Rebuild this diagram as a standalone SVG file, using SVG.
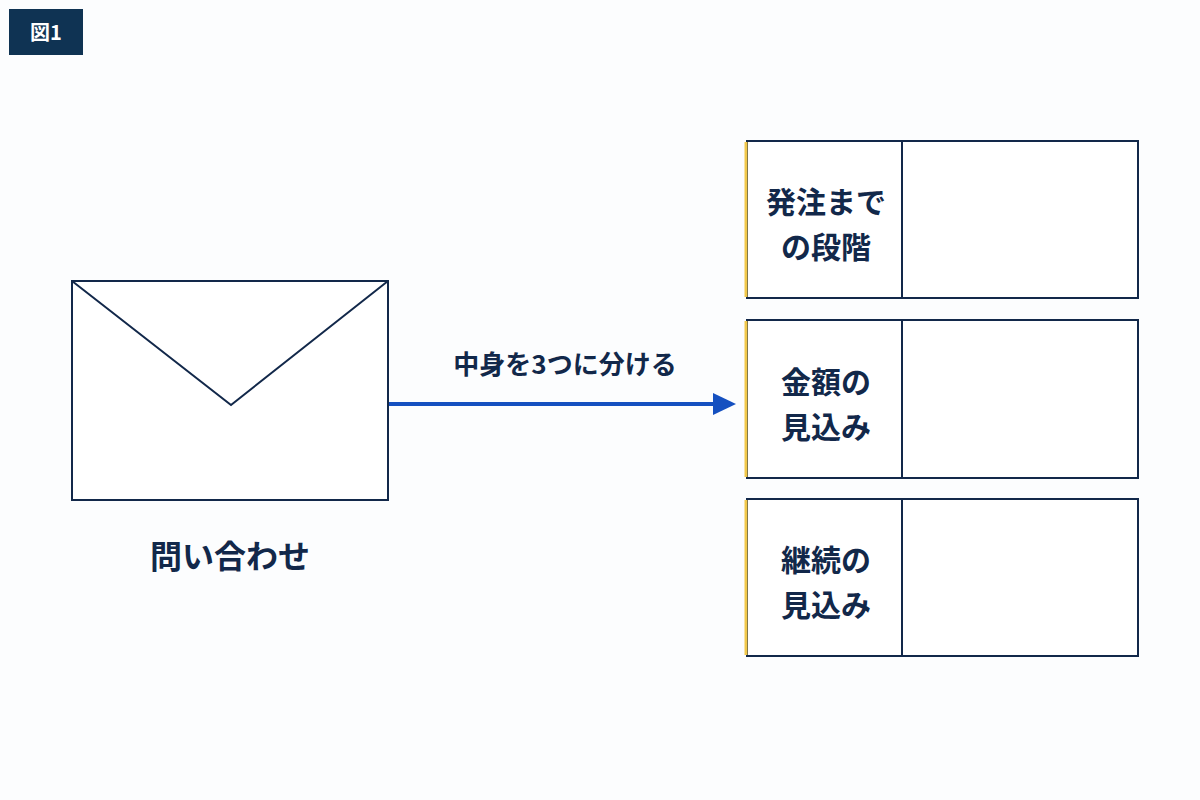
<svg xmlns="http://www.w3.org/2000/svg" width="1200" height="800" viewBox="0 0 1200 800">
<style>
.t{font-family:"Noto Sans CJK JP","Noto Sans",sans-serif;font-weight:700;fill:#12284a}
.box{fill:#fff;stroke:#12284a;stroke-width:2}
.ln{stroke:#12284a;stroke-width:2;fill:none}
.acc{stroke:#f2c84b;stroke-width:3}
</style>
<rect width="1200" height="800" fill="#fcfdfe"/>
<g id="badge"><rect x="9" y="9" width="74" height="46" fill="#0f3353"/><text x="46" y="40" text-anchor="middle" class="t" style="fill:#fff" font-size="20">図1</text></g>
<g id="envelope">
<rect x="72" y="281" width="316" height="219" class="box"/>
<polyline points="72,281 231,405 388,281" class="ln"/>
<text x="230" y="568" text-anchor="middle" class="t" font-size="32">問い合わせ</text>
</g>
<g id="connectors">
<line x1="389" y1="404" x2="716" y2="404" stroke="#1550c0" stroke-width="4"/>
<polygon points="713,393 736,404 713,415" fill="#1550c0"/>
<text x="565" y="374" text-anchor="middle" class="t" font-size="26">中身を3つに分ける</text>
</g>
<g id="box1"><rect x="747" y="141" width="391" height="157" class="box"/><line x1="902" y1="141" x2="902" y2="298" class="ln"/><line x1="746" y1="142" x2="746" y2="297" class="acc"/>
<text class="t" font-size="30" text-anchor="middle"><tspan x="826" y="213">発注まで</tspan><tspan x="826" y="258">の段階</tspan></text></g>
<g id="box2"><rect x="747" y="320" width="391" height="158" class="box"/><line x1="902" y1="320" x2="902" y2="478" class="ln"/><line x1="746" y1="321" x2="746" y2="477" class="acc"/>
<text class="t" font-size="30" text-anchor="middle"><tspan x="826" y="393">金額の</tspan><tspan x="826" y="438">見込み</tspan></text></g>
<g id="box3"><rect x="747" y="499" width="391" height="157" class="box"/><line x1="902" y1="499" x2="902" y2="656" class="ln"/><line x1="746" y1="500" x2="746" y2="655" class="acc"/>
<text class="t" font-size="30" text-anchor="middle"><tspan x="826" y="571">継続の</tspan><tspan x="826" y="616">見込み</tspan></text></g>
</svg>
